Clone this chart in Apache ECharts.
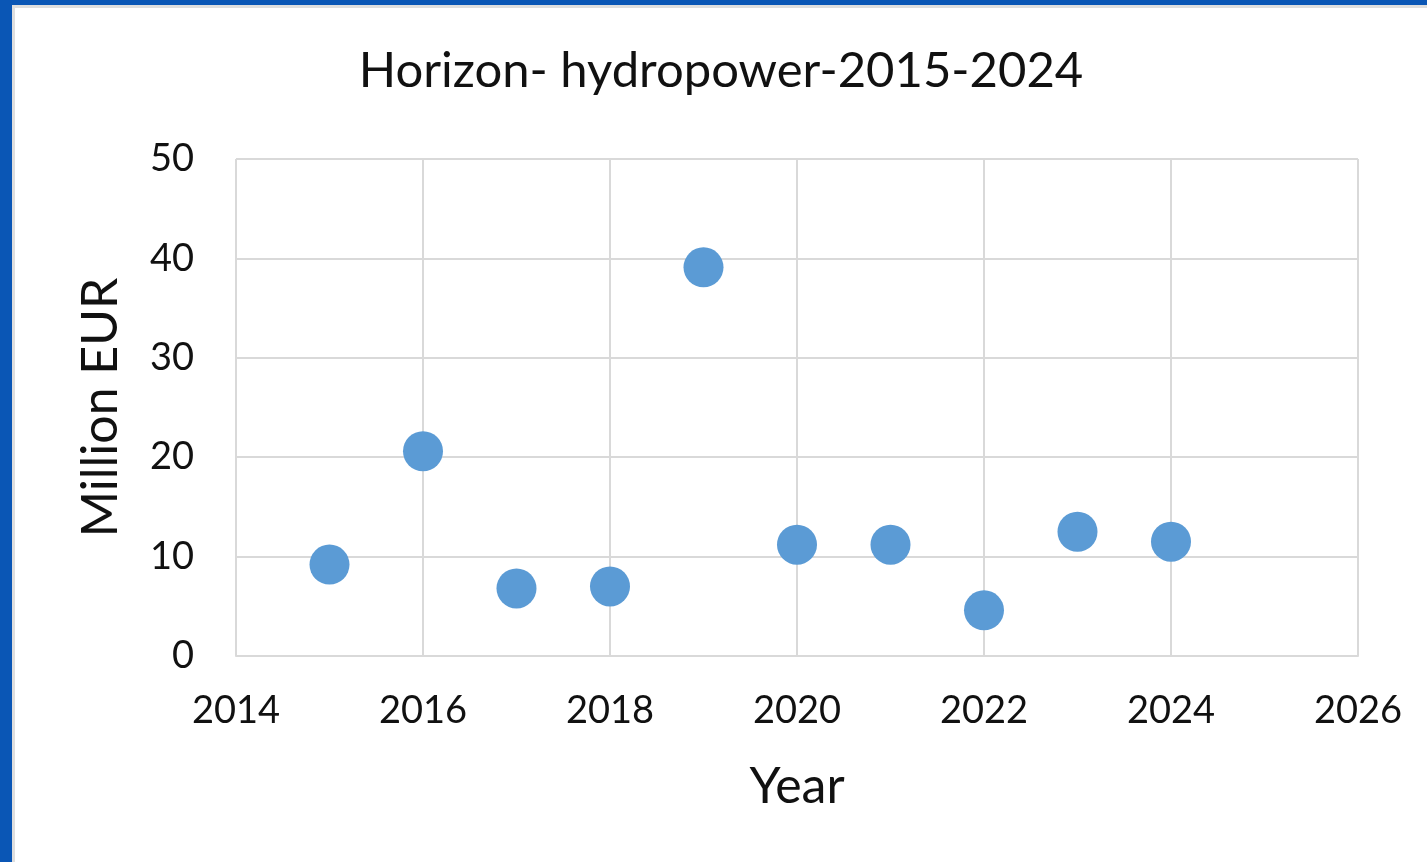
<!DOCTYPE html>
<html>
<head>
<meta charset="utf-8">
<title>Horizon- hydropower-2015-2024</title>
<script src="https://cdn.jsdelivr.net/npm/echarts@6/dist/echarts.min.js"></script>
<style>
  html, body {
    margin: 0;
    padding: 0;
    width: 1427px;
    height: 862px;
    overflow: hidden;
    background: #0a56b5;
  }
  #chart {
    position: absolute;
    left: 12px;
    top: 5px;
    width: 1412px;
    height: 854px;
    background: #fff;
    border-left: 3px solid #dedede;
    border-top: 3px solid #dedede;
  }
</style>
</head>
<body>
<div id="chart"></div>
<script>
// data
const years = [2015, 2016, 2017, 2018, 2019, 2020, 2021, 2022, 2023, 2024]
const millionEur = [9.2, 20.6, 6.8, 7.0, 39.1, 11.2, 11.2, 4.6, 12.5, 11.5]

const xTicks = [2014, 2016, 2018, 2020, 2022, 2024, 2026]
const yTicks = [0, 10, 20, 30, 40, 50]

const gridColor = '#d9d9d9'
const textColor = '#111'
const font = 'Lato'

const chart = echarts.init(document.getElementById('chart'))

const option = {
  animation: false,
  backgroundColor: '#fff',
  title: {
    text: 'Horizon- hydropower-2015-2024',
    left: 'center',
    top: 34,
    textStyle: {
      fontFamily: font,
      fontSize: 49,
      fontWeight: 'normal',
      color: textColor
    }
  },
  grid: {
    left: 221,
    right: 69,
    top: 151,
    bottom: 206,
    containLabel: false
  },
  xAxis: {
    type: 'value',
    min: xTicks[0],
    max: xTicks[xTicks.length - 1],
    interval: 2,
    name: 'Year',
    nameLocation: 'middle',
    nameGap: 106,
    nameTextStyle: { fontFamily: font, fontSize: 50, color: textColor },
    axisLine: { show: true, lineStyle: { color: gridColor, width: 2 } },
    axisTick: { show: false },
    axisLabel: {
      fontFamily: font,
      fontSize: 38,
      color: textColor,
      margin: 36,
      formatter: v => String(v)
    },
    splitLine: { show: true, lineStyle: { color: gridColor, width: 2 } }
  },
  yAxis: {
    type: 'value',
    min: yTicks[0],
    max: yTicks[yTicks.length - 1],
    interval: 10,
    name: 'Million EUR',
    nameLocation: 'middle',
    nameRotate: 90,
    nameGap: 110,
    nameTextStyle: { fontFamily: font, fontSize: 50, color: textColor },
    axisLine: { show: false },
    axisTick: { show: false },
    axisLabel: {
      fontFamily: font,
      fontSize: 38,
      color: textColor,
      margin: 42
    },
    splitLine: { show: true, lineStyle: { color: gridColor, width: 2 } }
  },
  series: [
    {
      type: 'scatter',
      data: years.map((y, i) => [y, millionEur[i]]),
      symbol: 'circle',
      symbolSize: 40,
      itemStyle: { color: '#5b9bd5', opacity: 1 }
    }
  ]
}

chart.setOption(option)
</script>
</body>
</html>
